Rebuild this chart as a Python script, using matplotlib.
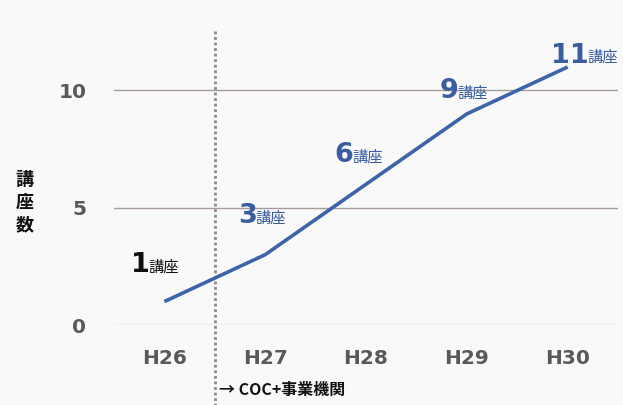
import matplotlib
matplotlib.use("Agg")
import matplotlib.pyplot as plt

years = ["H26", "H27", "H28", "H29", "H30"]
counts = [1, 3, 6, 9, 11]
label_colors = ["#111111", "#3b5c9e", "#3b5c9e", "#3b5c9e", "#3b5c9e"]
unit = "講座"

fam = ["DejaVu Sans", "Noto Sans CJK JP"]
cjk = ["Noto Sans CJK JP", "DejaVu Sans"]
bg = "#f9f9f9"

fig = plt.figure(figsize=(6.23, 4.05), dpi=100, facecolor=bg)
ax = fig.add_axes([0.183, 0.1975, 0.809, 0.7355], facecolor=bg)
x = list(range(len(years)))
ax.set_xlim(-0.5, 4.5)
ax.set_ylim(0, 12.7)

for gy in (5, 10):
    ax.axhline(gy, color="#a99a9a", lw=1.0, zorder=1)
ax.axhline(0, color="#d9d3d3", lw=1.0, zorder=1)

ax.plot(x, counts, color="#3d64a8", lw=2.6, solid_capstyle="butt", zorder=3)

# dotted divider
ax.plot([0.5, 0.5], [-3.5, 12.6], color="#8a8a8a", lw=2.0,
        linestyle=(0, (1, 1)), clip_on=False, zorder=2)

for s in ax.spines.values():
    s.set_visible(False)
ax.set_xticks(x)
ax.set_xticklabels(years)
ax.set_yticks([0, 5, 10])
ax.tick_params(axis="both", length=0, labelcolor="#595959", labelsize=14.5)
ax.tick_params(axis="x", pad=17)
ax.tick_params(axis="y", pad=20)
for lab in ax.get_xticklabels() + ax.get_yticklabels():
    lab.set_fontweight("bold")

fig.text(0.04, 0.5, "講\n座\n数", family=cjk, fontsize=13, fontweight="bold",
         ha="center", va="center", linespacing=1.25, color="#111111")

# data labels
label_pos = [(-0.33, 2.26), (0.73, 4.34), (1.69, 6.94), (2.73, 9.66), (3.84, 11.19)]
for (px, py), v, col in zip(label_pos, counts, label_colors):
    t = ax.text(px, py, str(v), family=fam, fontsize=19.5, fontweight="bold",
                color=col, ha="left", va="baseline", zorder=4)
    ax.annotate(unit, xy=(1, 0), xycoords=t, xytext=(-1, 2), textcoords="offset points",
                family=cjk, fontsize=11, color=col, ha="left", va="bottom", zorder=4)

fig.text(0.352, 0.025, "→ COC+事業機関", family=cjk, fontsize=11.5, fontweight="bold",
         color="#111111", ha="left", va="baseline")

fig.savefig("out.png", dpi=100, facecolor=bg)
